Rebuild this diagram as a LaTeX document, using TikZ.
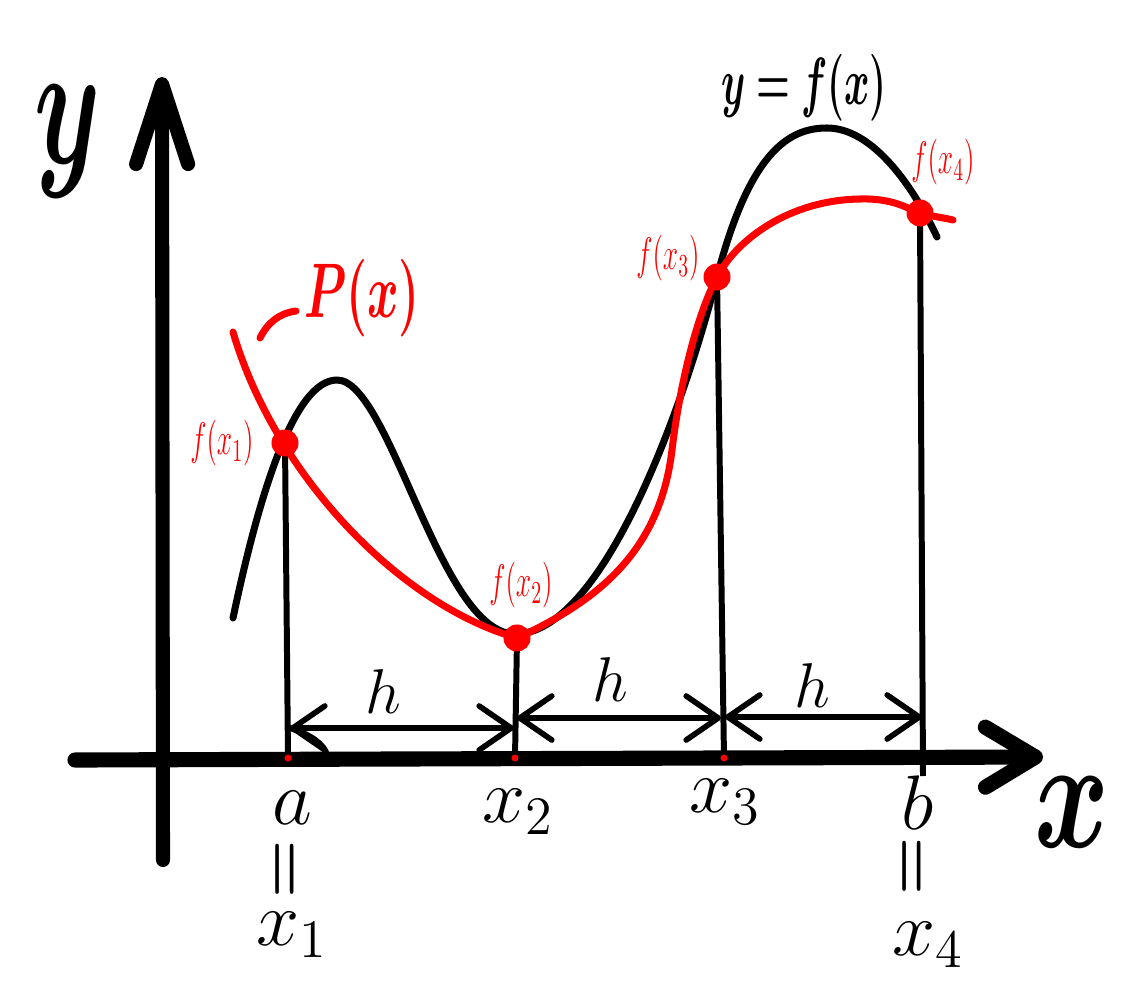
\RequirePackage{fix-cm}
\documentclass[tikz,border=0pt]{standalone}
\usepackage{bm}
\usepackage{graphicx}
\usetikzlibrary{arrows.meta}
\newcommand{\slim}[2][0.7]{\scalebox{#1}[1]{#2}}
\begin{document}
\begin{tikzpicture}[x=0.01cm, y=-0.01cm,
    axis/.style={line width=4.3pt, line cap=round, line join=round},
    curve/.style={line width=2pt, line cap=round, line join=round},
    stem/.style={line width=1.7pt},
    span/.style={line width=1.6pt, line cap=round,
      {Straight Barb[round, length=3.2mm, width=4.4mm]}-{Straight Barb[round, length=3.2mm, width=4.4mm]}},
    pt/.style={circle, fill=red, inner sep=0pt, minimum size=2.7mm},
    tick/.style={font=\fontsize{22}{22}\selectfont},
    eqs/.style={rotate=90, font=\fontsize{19}{19}\selectfont},
    fval/.style={red, font=\fontsize{13}{13}\selectfont},
    hlab/.style={font=\fontsize{18}{18}\selectfont}]
  \useasboundingbox (0,0) rectangle (1130,1000);
  % Axes
  \coordinate (xl) at (75,760);
  \coordinate (xr) at (1043,757);
  \coordinate (yb) at (163,860);
  \coordinate (yt) at (162,77);
  \draw[axis, -{Straight Barb[round, length=5mm, width=6mm]}] (xl) -- (xr);
  \draw[axis, line width=4pt, -{Straight Barb[round, length=8mm, width=5.2mm]}] (yb) -- (yt);
  % f(x)
  \draw[curve] (233,618) .. controls (260,490) and (295,380) .. (337,380)
    .. controls (390,380) and (440,634) .. (515,634)
    .. controls (600,634) and (680,420) .. (717,277)
    .. controls (750,150) and (790,128) .. (827,128)
    .. controls (870,128) and (910,180) .. (937,237);
  % Nodes x1..x4 and their feet
  \coordinate (p1) at (285,443);
  \coordinate (p2) at (517,638);
  \coordinate (p3) at (717,277);
  \coordinate (p4) at (920,213);
  \coordinate (b1) at (288,758);
  \coordinate (b2) at (515,758);
  \coordinate (b3) at (724,758);
  \coordinate (b4) at (923,776);
  \foreach \i in {1,...,4} \draw[stem] (p\i) -- (b\i);
  \foreach \i in {1,2,3} \fill[red] (b\i) circle[radius=0.35mm];
  % P(x)
  \draw[curve, red] (233,332) .. controls (275,475) and (400,605) .. (p2)
    .. controls (600,600) and (660,550) .. (672,450)
    .. controls (680,383) and (697,315) .. (p3)
    .. controls (737,239) and (790,200) .. (860,199)
    .. controls (895,198) and (910,210) .. (p4)
    .. controls (935,217) and (945,218) .. (953,220);
  \draw[curve, red] (260,338) .. controls (268,322) and (280,313) .. (296,311);
  \foreach \i in {1,...,4} \node[pt] (d\i) at (p\i) {};
  % Steps h
  \coordinate (h1l) at (290,728);
  \coordinate (h1r) at (514,728);
  \coordinate (h2l) at (517,718);
  \coordinate (h2r) at (721,718);
  \coordinate (h3l) at (725,717);
  \coordinate (h3r) at (922,717);
  \coordinate (hc) at (326,752);
  \draw[span] (h1l) -- (h1r);
  \draw[span] (h2l) -- (h2r);
  \draw[span] (h3l) -- (h3r);
  \draw[stem, line cap=round] (h1l) .. controls (305,733) and (320,740) .. (hc);
  \node[hlab] (h1) at (383,692) {$h$};
  \node[hlab] (h2) at (610,680) {$h$};
  \node[hlab] (h3) at (812,686) {$h$};
  % Labels
  \node[font=\fontsize{50}{50}\selectfont] (ylab) at (68,142) {\slim[0.6]{$\bm{y}$}};
  \node[font=\fontsize{45}{45}\selectfont] (xlab) at (1072,812) {\slim[0.72]{$\bm{x}$}};
  \node[font=\fontsize{19}{19}\selectfont] (fname) at (804,88) {\slim[0.58]{$\bm{y=f(x)}$}};
  \node[red, font=\fontsize{22}{22}\selectfont] (pname) at (362,298) {\slim[0.62]{$\bm{P(x)}$}};
  \node[fval] (f1) at (222,443) {\slim[0.6]{$f(x_1)$}};
  \node[fval] (f2) at (521,585) {\slim[0.6]{$f(x_2)$}};
  \node[fval] (f3) at (668,258) {\slim[0.6]{$f(x_3)$}};
  \node[fval] (f4) at (943,162) {\slim[0.6]{$f(x_4)$}};
  \node[tick] (a) at (292,808) {$a$};
  \node[eqs] (e1) at (289,869) {$\bm{=}$};
  \node[tick] (x1) at (292,935) {$x_1$};
  \node[tick] (x2) at (518,812) {$x_2$};
  \node[tick] (x3) at (725,802) {$x_3$};
  \node[tick] (b) at (918,803) {$b$};
  \node[eqs] (e4) at (916,866) {$\bm{=}$};
  \node[tick] (x4) at (928,945) {$x_4$};
\end{tikzpicture}
\end{document}
